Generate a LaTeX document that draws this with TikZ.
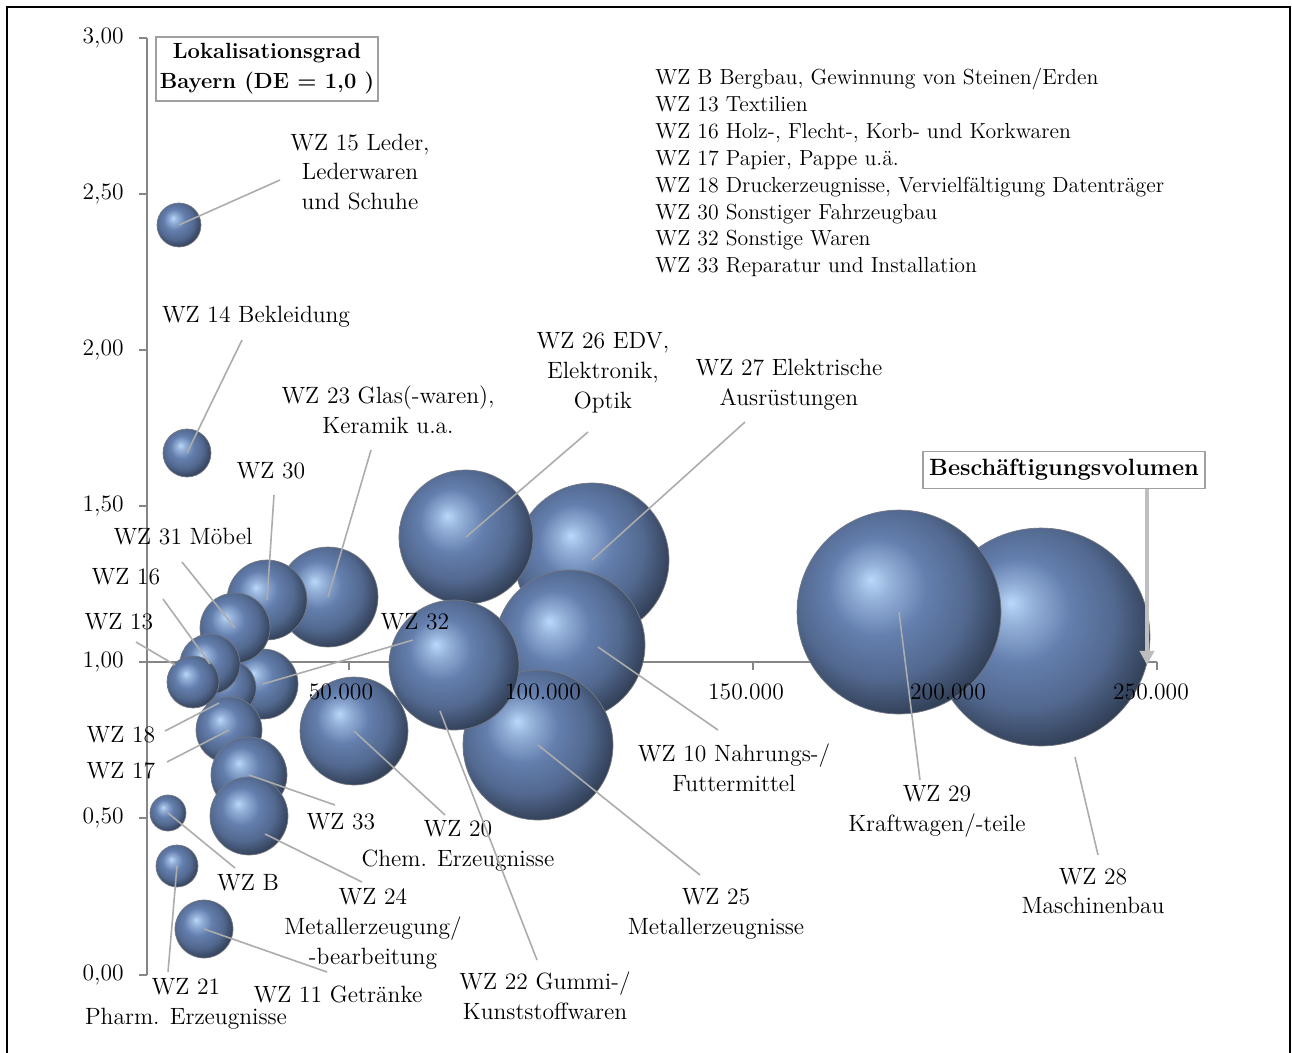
\documentclass[tikz,border=0pt]{standalone}
\usepackage{tikz}
\usetikzlibrary{arrows.meta}

\definecolor{bubblemid}{RGB}{100,127,174}
\definecolor{bubblehi}{RGB}{186,216,250}
\definecolor{bubbledark}{RGB}{24,30,46}
\definecolor{axisgray}{RGB}{134,134,134}
\definecolor{leadgray}{RGB}{172,172,172}
\definecolor{boxgray}{RGB}{160,160,160}
\definecolor{arrowgray}{RGB}{190,190,190}

\pgfdeclareradialshading{bubbleshade}{\pgfpoint{-7bp}{8bp}}{%
  color(0bp)=(bubblehi); color(4bp)=(bubblehi!60!bubblemid);
  color(12bp)=(bubblemid); color(21bp)=(bubblemid!82!black);
  color(29bp)=(bubblemid!50!black); color(35bp)=(bubbledark);
  color(50bp)=(bubbledark)}

\tikzset{
  bubble/.style={circle, inner sep=0pt, shading=bubbleshade,
    draw=bubbledark!60, line width=0.4pt, minimum size=#1*0.04cm},
  lbl/.style={font=\fontsize{13.4}{17}\selectfont, align=center, inner sep=0pt},
  leader/.style={draw=leadgray, line width=0.9pt},
  axis/.style={draw=axisgray, line width=1pt},
  titlebox/.style={draw=boxgray, fill=white, line width=0.6pt, align=center,
    inner xsep=2pt, font=\bfseries\fontsize{12.5}{17}\selectfont}
}

\begin{document}
\begin{tikzpicture}[x=0.02cm,y=-0.02cm]
\useasboundingbox (0,0) rectangle (1292,1052);
\fill[white] (0,0) rectangle (1292,1052);
\draw[line width=1.4pt] (7,1060) -- (7,7) -- (1290,7) -- (1290,1060);

% axes
\draw[axis] (147,38) -- (147,975);
\draw[axis] (139,662) -- (1157,662);
\foreach \y/\t in {38/{3,00},194/{2,50},350/{2,00},506/{1,50},662/{1,00},818/{0,50},975/{0,00}}
  {\draw[axis] (139,\y) -- (147,\y);
   \node[lbl, anchor=east] at (124,\y) {\t};}
\foreach \x in {349,551,753,955,1157}
  \draw[axis] (\x,662) -- (\x,670);

% bubbles, back to front
\node[bubble=50] (wz23) at (328,597) {};
\node[bubble=40] (wz30) at (267,600) {};
\node[bubble=35] (wz32) at (263,684) {};
\node[bubble=35] (wz31) at (235,628) {};
\node[bubble=28] (wz18) at (228,688) {};
\node[bubble=30] (wz16) at (210,664) {};
\node[bubble=26] (wz13) at (193,682) {};
\node[bubble=33] (wz17) at (229,730) {};
\node[bubble=38] (wz33) at (249,775) {};
\node[bubble=39] (wz24) at (249,816) {};
\node[bubble=18] (wzB)  at (168,813) {};
\node[bubble=21] (wz21) at (177,866) {};
\node[bubble=29] (wz11) at (204,929) {};
\node[bubble=22] (wz15) at (179,225) {};
\node[bubble=24] (wz14) at (187,453) {};
\node[bubble=54] (wz20) at (354,731) {};
\node[bubble=77] (wz27) at (592,560) {};
\node[bubble=67] (wz26) at (466,537) {};
\node[bubble=75] (wz10) at (570,645) {};
\node[bubble=75] (wz25) at (538,745) {};
\node[bubble=65] (wz22) at (454,665) {};
\node[bubble=109] (wz28) at (1041,637) {};
\node[bubble=102] (wz29) at (899,612) {};

% x tick labels
\node[lbl] at (341,692) {50.000};
\node[lbl] at (543,692) {100.000};
\node[lbl] at (746,692) {150.000};
\node[lbl] at (948,692) {200.000};
\node[lbl] at (1151,692) {250.000};

% labels
\node[lbl] (t15) at (360,172) {WZ 15 Leder,\\Lederwaren\\und Schuhe};
\node[lbl] (t14) at (256,317) {WZ 14 Bekleidung};
\node[lbl] (t23) at (388,410) {WZ 23 Glas(-waren),\\Keramik u.a.};
\node[lbl] (t30) at (271,471) {WZ 30};
\node[lbl] (t31) at (183,537) {WZ 31 M\"obel};
\node[lbl] (t16) at (126,577) {WZ 16};
\node[lbl] (t13) at (119,622) {WZ 13};
\node[lbl] (t18) at (121,735) {WZ 18};
\node[lbl] (t17) at (121,771) {WZ 17};
\node[lbl] (t32) at (415,622) {WZ 32};
\node[lbl] (t26) at (603,373) {WZ 26 EDV,\\Elektronik,\\Optik};
\node[lbl] (t27) at (789,385) {WZ 27 Elektrische\\Ausr\"ustungen};
\node[lbl] (t10) at (734,768) {WZ 10 Nahrungs-/\\Futtermittel};
\node[lbl] (t25) at (716,914) {WZ 25\\Metallerzeugnisse};
\node[lbl] (t22) at (545,996) {WZ 22 Gummi-/\\Kunststoffwaren};
\node[lbl] (t20) at (458,846) {WZ 20\\Chem. Erzeugnisse};
\node[lbl] (t33) at (341,822) {WZ 33};
\node[lbl] (t24) at (373,929) {WZ 24\\Metallerzeugung/\\-bearbeitung};
\node[lbl] (tB)  at (248,883) {WZ B};
\node[lbl] (t21) at (186,1004) {WZ 21\\Pharm. Erzeugnisse};
\node[lbl] (t11) at (338,994) {WZ 11 Getr\"anke};
\node[lbl] (t29) at (937,811) {WZ 29\\Kraftwagen/-teile};
\node[lbl] (t28) at (1093,891) {WZ 28\\Maschinenbau};

% leader ends
\coordinate (c15) at (280,180);
\coordinate (c14) at (242,340);
\coordinate (c23) at (371,450);
\coordinate (c30) at (274,495);
\coordinate (c31) at (182,562);
\coordinate (c16) at (163,599);
\coordinate (c13) at (136,642);
\coordinate (c18) at (165,731);
\coordinate (c17) at (167,762);
\coordinate (c32) at (413,640);
\coordinate (c26) at (588,432);
\coordinate (c27) at (745,422);
\coordinate (c10) at (718,730);
\coordinate (c25) at (700,875);
\coordinate (c22) at (537,960);
\coordinate (c20) at (445,815);
\coordinate (c33) at (335,805);
\coordinate (c24) at (362,882);
\coordinate (cB)  at (235,868);
\coordinate (c21) at (168,972);
\coordinate (c11) at (327,972);
\coordinate (c29) at (920,780);
\coordinate (c28) at (1098,855);
\coordinate (e13) at (175,665);
\coordinate (e18) at (219,703);
\coordinate (e24) at (265,834);
\coordinate (e10) at (598,647);
\coordinate (e22) at (440,711);
\coordinate (e28) at (1075,757);

\path[leader]
  (c15) -- (wz15.center)  (c14) -- (wz14.center)
  (c23) -- (wz23.center)  (c30) -- (wz30.center)
  (c31) -- (wz31.center)  (c16) -- (wz16.center)
  (c13) -- (e13)          (c18) -- (e18)
  (c17) -- (wz17.center)  (c32) -- (wz32.center)
  (c26) -- (wz26.center)  (c27) -- (wz27.center)
  (c10) -- (e10)          (c25) -- (wz25.center)
  (c22) -- (e22)          (c20) -- (wz20.center)
  (c33) -- (wz33.center)  (c24) -- (e24)
  (cB)  -- (wzB.center)   (c21) -- (wz21.center)
  (c11) -- (wz11.center)  (c29) -- (wz29.center)
  (c28) -- (e28);

% boxes
\node[titlebox, minimum width=222*0.02cm, minimum height=64*0.02cm]
  (lokbox) at (267,69) {Lokalisationsgrad\\Bayern (DE = 1,0 )};
\node[titlebox, minimum width=282*0.02cm, minimum height=37*0.02cm,
  font=\bfseries\fontsize{13.4}{17}\selectfont]
  (volbox) at (1064,470) {Besch\"aftigungsvolumen};
\coordinate (vtip) at (1147,665);
\draw[arrowgray, line width=2.2pt, -{Triangle[length=8pt,width=8pt]}]
  (volbox.south -| vtip) -- (vtip);

% legend
\node[anchor=north west, align=left, inner sep=0pt,
  font=\fontsize{12.4}{15.3}\selectfont] (legend) at (655,68)
  {WZ B Bergbau, Gewinnung von Steinen/Erden\\
   WZ 13 Textilien\\
   WZ 16 Holz-, Flecht-, Korb- und Korkwaren\\
   WZ 17 Papier, Pappe u.\"a.\\
   WZ 18 Druckerzeugnisse, Vervielf\"altigung Datentr\"ager\\
   WZ 30 Sonstiger Fahrzeugbau\\
   WZ 32 Sonstige Waren\\
   WZ 33 Reparatur und Installation};
\end{tikzpicture}
\end{document}
